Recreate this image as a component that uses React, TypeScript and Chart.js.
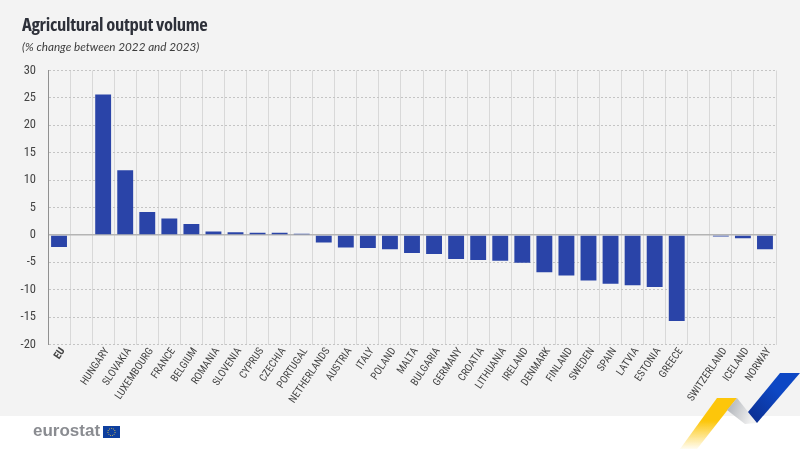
import React, { useEffect, useRef } from "react";
import { Chart, registerables } from "chart.js";

Chart.register(...registerables);

const categories = ["EU", "", "HUNGARY", "SLOVAKIA", "LUXEMBOURG", "FRANCE", "BELGIUM", "ROMANIA", "SLOVENIA", "CYPRUS", "CZECHIA", "PORTUGAL", "NETHERLANDS", "AUSTRIA", "ITALY", "POLAND", "MALTA", "BULGARIA", "GERMANY", "CROATIA", "LITHUANIA", "IRELAND", "DENMARK", "FINLAND", "SWEDEN", "SPAIN", "LATVIA", "ESTONIA", "GREECE", " ", "SWITZERLAND", "ICELAND", "NORWAY"];
const values = [-2.2, null, 25.6, 11.8, 4.2, 3.0, 2.0, 0.6, 0.5, 0.4, 0.4, 0.2, -1.4, -2.3, -2.4, -2.6, -3.3, -3.5, -4.4, -4.6, -4.7, -5.1, -6.8, -7.4, -8.3, -8.9, -9.2, -9.5, -15.7, null, -0.3, -0.6, -2.6];
const chartTitle = "Agricultural output volume";
const chartSubtitle = "(% change between 2022 and 2023)";
const FONT = '"Open Sans", sans-serif';
const TICK_FONT = '"Roboto Condensed", sans-serif';

export default function App() {
  const ref = useRef<HTMLCanvasElement>(null);
  useEffect(() => {
    document.body.style.margin = "0";
    const chart = new Chart(ref.current!, {
      type: "bar",
      data: {
        labels: categories,
        datasets: [{ data: values, backgroundColor: "#2a44a8", barPercentage: 0.72, categoryPercentage: 1 }],
      },
      options: {
        responsive: false,
        animation: false,
        layout: { padding: { left: 0, right: 24, top: 70.5, bottom: 0 } },
        plugins: { legend: { display: false }, tooltip: { enabled: false } },
        scales: {
          x: {
            afterFit: (s: any) => { s.height = 105.5; },
            grid: { color: (ctx: any) => (ctx.index >= 33 ? "rgba(0,0,0,0)" : "#d8d8d8"), lineWidth: 1, drawTicks: false, offset: true },
            border: { display: false },
            ticks: {
              autoSkip: false,
              maxRotation: 56,
              minRotation: 56,
              padding: 1,
              labelOffset: 4,
              color: "#444",
              font: (ctx: any) => ({ family: TICK_FONT, size: 10.6, weight: ctx.index === 0 ? "bold" : "normal" }),
            },
          },
          y: {
            min: -20,
            max: 30,
            afterFit: (s: any) => { s.width = 48; },
            grid: {
              color: (ctx: any) => (ctx.tick.value === 0 ? "#b4b4b4" : "#c4c4c4"),
              lineWidth: (ctx: any) => (ctx.tick.value === 0 ? 1.5 : 1),
              drawTicks: false,
            },
            border: { display: true, color: "#909090", width: 1, dash: (ctx: any) => (ctx.tick && ctx.tick.value === 0 ? [] : [2, 2]) },
            ticks: { stepSize: 5, padding: 12, color: "#444", font: { family: TICK_FONT, size: 12.5 } },
          },
        },
      },
    } as any);
    return () => chart.destroy();
  }, []);

  return (
    <div style={{ position: "relative", width: 800, height: 450, background: "#fff", overflow: "hidden" }}>
      <div style={{ position: "absolute", left: 0, top: 0, width: 800, height: 416, background: "#f3f3f3" }} />
      <canvas ref={ref} width={800} height={450} style={{ position: "absolute", left: 0, top: 0 }} />
      <div style={{ position: "absolute", left: 22, top: 11, fontFamily: FONT, fontStretch: "75%", fontWeight: 700, fontSize: 18.5, letterSpacing: -0.3, color: "#2d3039", whiteSpace: "nowrap" }}>{chartTitle}</div>
      <div style={{ position: "absolute", left: 22, top: 39, fontFamily: "Lato, sans-serif", fontStyle: "italic", fontSize: 11.7, color: "#3c3c3c", whiteSpace: "nowrap" }}>{chartSubtitle}</div>
      <div style={{ position: "absolute", left: 33, top: 421, fontFamily: '"Liberation Sans", sans-serif', fontWeight: 700, fontSize: 17, color: "#8a8c91", whiteSpace: "nowrap" }}>eurostat</div>
      <svg width={800} height={450} style={{ position: "absolute", left: 0, top: 0 }}>
        <defs>
          <linearGradient id="yel" x1="0" y1="0" x2="0" y2="1">
            <stop offset="0.45" stopColor="#fdc60a" />
            <stop offset="1" stopColor="#fdc60a" stopOpacity="0.05" />
          </linearGradient>
          <linearGradient id="gry" x1="0" y1="0" x2="1" y2="0.3">
            <stop offset="0" stopColor="#a9adb3" />
            <stop offset="1" stopColor="#f2f2f2" />
          </linearGradient>
          <linearGradient id="blu" x1="1" y1="0" x2="0" y2="1">
            <stop offset="0.4" stopColor="#0d47c4" />
            <stop offset="1" stopColor="#0c2d8c" />
          </linearGradient>
        </defs>
        <rect x={103} y={426} width={17} height={12} fill="#0e3f9e" />
        <circle cx={111.5} cy={432} r={3.6} fill="none" stroke="#e6c84a" strokeWidth={1} strokeDasharray="1 1" />
        <polygon points="717,398 737,398 697,449 680,449" fill="url(#yel)" />
        <polygon points="737,398 757,423 745,424 727,410" fill="url(#gry)" />
        <polygon points="780,373 800,373 757,423 748,412" fill="url(#blu)" />
      </svg>
    </div>
  );
}
